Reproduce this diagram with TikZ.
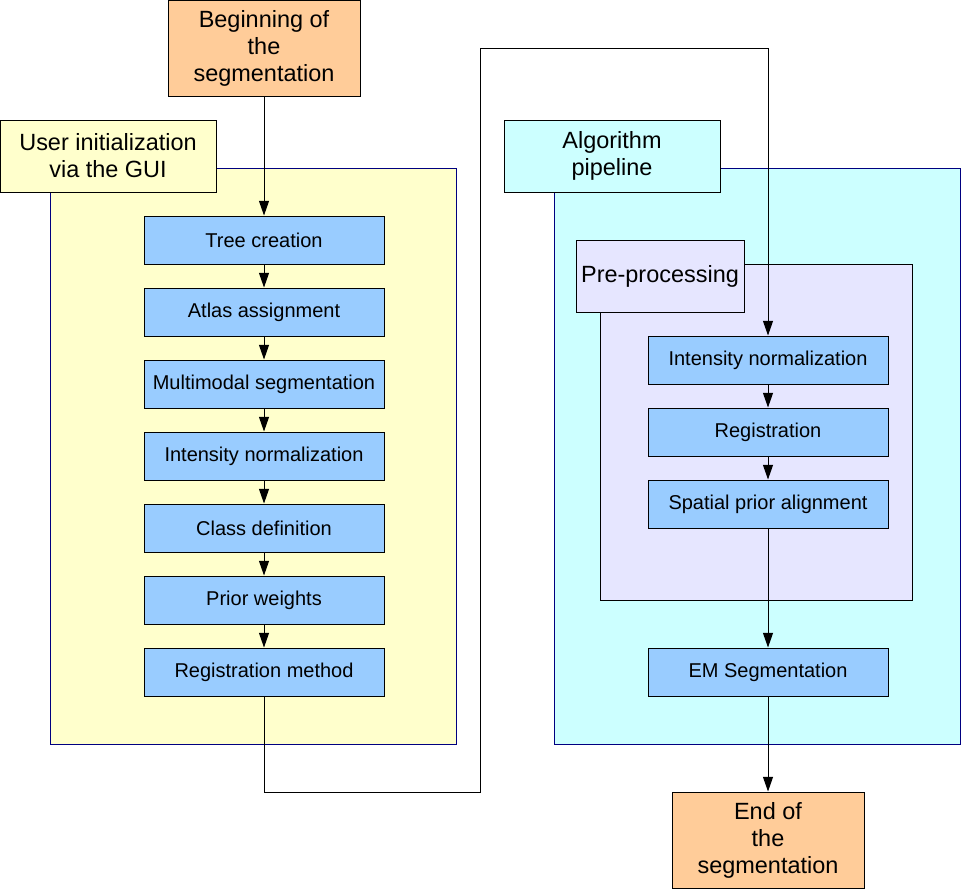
\documentclass[tikz,border=0pt]{standalone}
\usepackage{fontspec}
\setmainfont{Liberation Sans}
\usetikzlibrary{arrows.meta}

\definecolor{peach}{HTML}{FFCC99}
\definecolor{cream}{HTML}{FFFFCC}
\definecolor{skyblue}{HTML}{99CCFF}
\definecolor{palecyan}{HTML}{CCFFFF}
\definecolor{lavender}{HTML}{E6E6FF}
\definecolor{navy}{HTML}{000080}

\tikzset{
  bigtext/.style={font=\fontsize{17.6}{20.25}\selectfont, align=center},
  endbox/.style={draw, fill=peach, bigtext, minimum width=144pt, minimum height=72pt, inner sep=0pt},
  grouplabel/.style={draw, bigtext, minimum width=162pt, minimum height=54pt, inner sep=0pt},
  stepbox/.style={draw, fill=skyblue, font=\fontsize{15}{18}\selectfont, minimum width=180pt, minimum height=36pt, inner sep=0pt},
  container/.style={draw=navy},
  flow/.style={draw, -{Triangle[width=7.5pt,length=11pt]}}
}

\begin{document}
\begin{tikzpicture}[x=0.75pt, y=-0.75pt, line width=0.75pt]
\useasboundingbox (0,0) rectangle (962,890);

% group frames
\begin{scope}
\draw[container, fill=cream] (50,168) rectangle (456,744);
\draw[container, fill=palecyan] (554,168) rectangle (960,744);
\draw[fill=lavender] (600,264) rectangle (912,600);
\end{scope}

\node[grouplabel, fill=cream] (user) at (108,156) {User initialization\\via the GUI};
\node[grouplabel, fill=palecyan] (algo) at (612,156) {Algorithm\\pipeline};
\node[grouplabel, fill=lavender, minimum width=126pt] (prep) at (660,276) {Pre-processing};

% start and end
\node[endbox] (start) at (264,48.5) {Beginning of\\the\\segmentation};
\node[endbox] (finish) at (768,840) {End of\\the\\segmentation};

% user steps
\node[stepbox] (tree) at (264,240) {Tree creation};
\node[stepbox] (atlas) at (264,312) {Atlas assignment};
\node[stepbox] (multi) at (264,384) {Multimodal segmentation};
\node[stepbox] (intl) at (264,456) {Intensity normalization};
\node[stepbox] (class) at (264,528) {Class definition};
\node[stepbox] (prior) at (264,600) {Prior weights};
\node[stepbox] (regm) at (264,672) {Registration method};

% algorithm steps
\node[stepbox] (intr) at (768,360) {Intensity normalization};
\node[stepbox] (reg) at (768,432) {Registration};
\node[stepbox] (spat) at (768,504) {Spatial prior alignment};
\node[stepbox] (em) at (768,672) {EM Segmentation};

\coordinate (b1) at (264,792);
\coordinate (b2) at (480,792);
\coordinate (b3) at (480,48);
\coordinate (b4) at (768,48);

\foreach \a/\b in {start/tree, tree/atlas, atlas/multi, multi/intl, intl/class, class/prior, prior/regm, intr/reg, reg/spat, spat/em, em/finish}
  \draw[flow] (\a) -- (\b);

\draw[flow] (regm) -- (b1) -- (b2) -- (b3) -- (b4) -- (intr);

\end{tikzpicture}
\end{document}
